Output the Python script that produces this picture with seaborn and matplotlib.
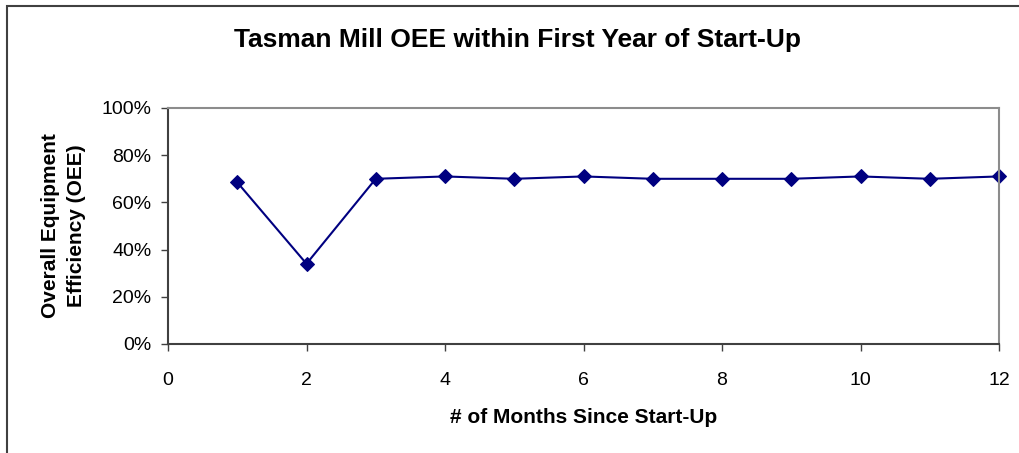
import matplotlib
matplotlib.use("Agg")
import matplotlib.pyplot as plt
import pandas as pd
import seaborn as sns
from matplotlib.patches import Rectangle
from matplotlib.ticker import PercentFormatter

# values
months = [1, 2, 3, 4, 5, 6, 7, 8, 9, 10, 11, 12]
oee = [0.685, 0.34, 0.70, 0.71, 0.70, 0.71, 0.70, 0.70, 0.70, 0.71, 0.70, 0.71]
x_ticks = [0, 2, 4, 6, 8, 10, 12]
y_ticks = [0.0, 0.2, 0.4, 0.6, 0.8, 1.0]

df = pd.DataFrame({"month": months, "oee": oee})

sns.set_style("white")
plt.rcParams["font.family"] = ["Liberation Sans", "DejaVu Sans"]
plt.rcParams["text.color"] = "black"
plt.rcParams["axes.labelcolor"] = "black"
plt.rcParams["xtick.color"] = "black"
plt.rcParams["ytick.color"] = "black"

fig = plt.figure(figsize=(10.19, 4.53), dpi=100)
ax = fig.add_axes([168 / 1019, 1 - 344 / 453, (999 - 168) / 1019, (344 - 108) / 453])

sns.lineplot(data=df, x="month", y="oee", ax=ax, color="#000080", linewidth=1.5,
             marker="D", markersize=7, markeredgecolor="#000080", clip_on=False)

ax.set_xlim(0, 12)
ax.set_ylim(0, 1)
ax.set_xticks(x_ticks)
ax.set_yticks(y_ticks)
ax.yaxis.set_major_formatter(PercentFormatter(1.0, decimals=0))
ax.tick_params(axis="both", labelsize=14, length=5, width=1, direction="out",
               color="#404040", labelcolor="black", bottom=True, left=True)
ax.tick_params(axis="x", pad=15)
ax.tick_params(axis="y", pad=7)

for side in ["left", "bottom"]:
    ax.spines[side].set_color("#404040")
    ax.spines[side].set_linewidth(1.5)
for side in ["top", "right"]:
    ax.spines[side].set_color("#8c8c8c")
    ax.spines[side].set_linewidth(1.5)

ax.set_xlabel("# of Months Since Start-Up", fontsize=15, fontweight="bold", labelpad=14)
ax.set_ylabel("Overall Equipment\nEfficiency (OEE)", fontsize=15, fontweight="bold",
              labelpad=11, linespacing=1.45)

fig.text(518 / 1019, 1 - 40 / 453, "Tasman Mill OEE within First Year of Start-Up",
         ha="center", va="center", fontsize=19, fontweight="bold")

# outer chart border, running off the right and bottom edges
fig.patches.append(Rectangle((7 / 1019, -0.1), 1.1, 1 - 6 / 453 + 0.1, transform=fig.transFigure,
                             fill=False, edgecolor="#404040", linewidth=1.5))

fig.savefig("out.png", dpi=100)
plt.close(fig)
